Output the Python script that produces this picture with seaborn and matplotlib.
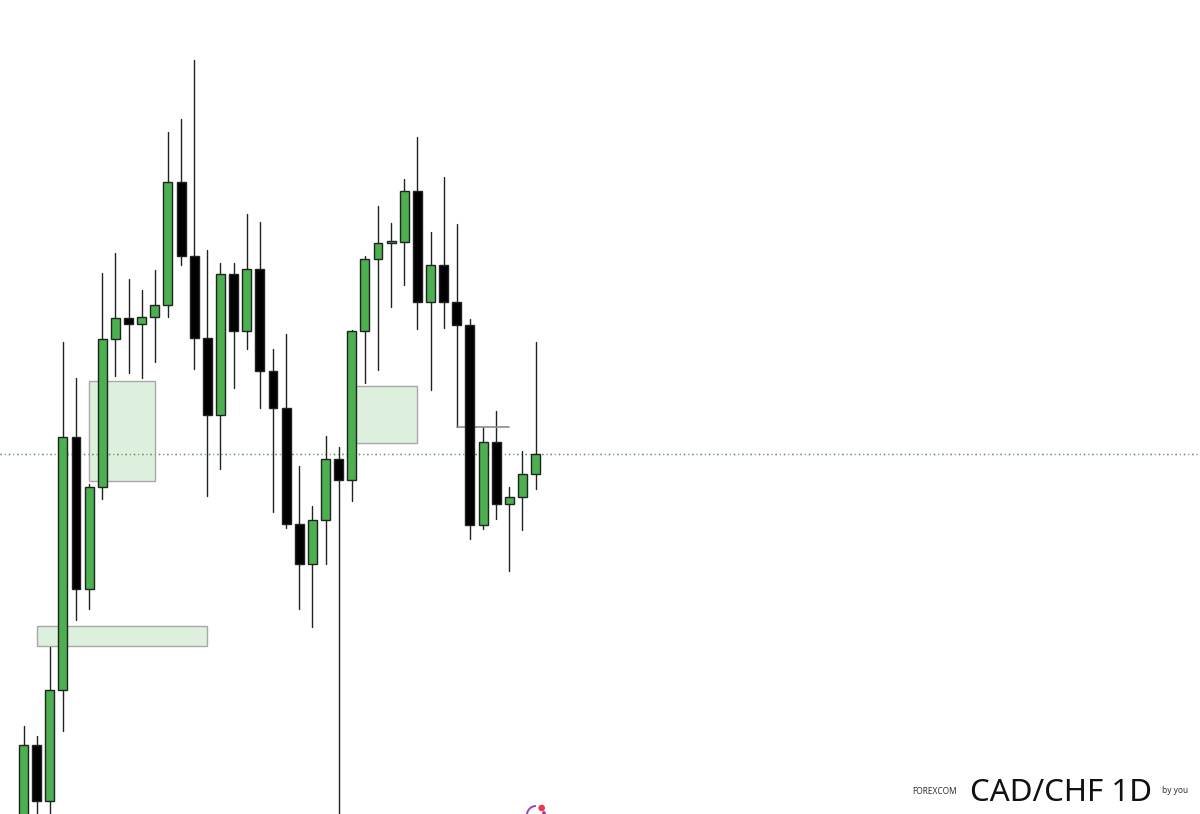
import pandas as pd
import matplotlib.pyplot as plt
import seaborn as sns
from matplotlib.patches import Arc, Circle, Rectangle
from matplotlib.transforms import IdentityTransform

# No price scale is visible, so values are read as chart height from the top
opens = [850, 744.5, 801, 690, 437, 588.5, 487, 339, 318, 324, 316.7, 305, 181.7, 256, 338, 415, 274, 331, 269, 371,
         408, 524, 563.5, 520.3, 459.3, 480, 331, 259.3, 243.3, 241.5, 191.3, 302.3, 265, 302.3, 324.7, 525, 442.3,
         503.7, 497.3, 474]
closes = [744.5, 801, 690, 437, 588.5, 487, 339, 318, 324, 316.7, 305, 181.7, 256, 338, 415, 274, 331, 269, 371, 408,
          524, 563.5, 520.3, 459.3, 480, 331, 259.3, 243.3, 241.3, 191.3, 302.3, 265, 302.3, 324.7, 525, 442.3, 503.7,
          497.3, 474, 454.3]
highs = [725.7, 736, 646.7, 342, 378, 484, 273, 252.7, 279, 290, 270, 132, 119, 60, 250, 263, 262.7, 214, 221.7, 349,
         334, 465.7, 506, 436, 446.7, 330, 255.7, 206, 223, 178.7, 137.3, 231.7, 177, 224.3, 319, 427, 411, 487.3,
         451.3, 342]
lows = [870, 830, 830, 730.7, 620, 609, 499, 375.7, 373, 377.7, 361.7, 316.7, 265, 369, 495.7, 468.7, 388, 349, 408,
        511.7, 527.7, 609, 626.7, 564, 900, 500.7, 382.7, 370, 307, 284.7, 329.3, 390, 327.7, 427, 539.3, 529.3, 518.7,
        570.7, 530.3, 489.3]

# Zones: first candle, last candle, top, bottom
zone_start = [5, 1, 25]
zone_end = [10, 14, 30]
zone_top = [381, 626.3, 385.7]
zone_bottom = [480.5, 645.5, 443.3]

last_price = 454.3
level_price = 427
level_start = 33
level_end = 37

df = pd.DataFrame({"idx": range(len(opens)), "open": opens, "close": closes, "high": highs, "low": lows})
df["body_top"] = df[["open", "close"]].min(axis=1)
df["body_height"] = (df["open"] - df["close"]).abs()
up = df[df["close"] < df["open"]]
down = df[df["close"] > df["open"]]

sns.set_style("white")
fig = plt.figure(figsize=(12, 8.14), dpi=100)
ax = fig.add_axes([0, 0, 1, 1])

# Zones under the candles
for i in range(len(zone_start)):
    ax.add_patch(Rectangle((zone_start[i], zone_top[i]), zone_end[i] - zone_start[i], zone_bottom[i] - zone_top[i],
                           facecolor="#ddefdd", edgecolor="#a8a8a8", linewidth=1, zorder=1))

# Dotted last price line, green and grey dots in turn
ax.axhline(last_price, color="#3fae49", linewidth=1, linestyle=(0, (1, 5)), zorder=1.5)
ax.axhline(last_price, color="#999999", linewidth=1, linestyle=(3, (1, 2)), zorder=1.4)

# Wicks
wicks = df.melt(id_vars="idx", value_vars=["high", "low"], value_name="price")
sns.lineplot(data=wicks, x="idx", y="price", units="idx", estimator=None, color="#222222", linewidth=1,
             legend=False, ax=ax, zorder=2, sort=False)

# Bodies
for part, colour in [(up, "#4caf50"), (down, "#000000")]:
    sns.barplot(data=part, x="idx", y="body_height", bottom=part["body_top"].values, native_scale=True, width=0.68,
                color=colour, saturation=1, edgecolor="#222222", linewidth=1, errorbar=None, ax=ax, zorder=3)

ax.plot([level_start, level_end], [level_price, level_price], color="#8c8c8c", linewidth=1.2, zorder=2)

ax.set_xlim(-1.79, 89.6)
ax.set_ylim(814, 0)
ax.axis("off")

# Watermark
fig.text(912 / 1200, 1 - 793.5 / 814, "FOREXCOM", fontsize=6, family="Noto Sans", color="#333333", va="baseline")
fig.text(970 / 1200, 1 - 801 / 814, "CAD/CHF 1D", fontsize=22.5, family="Noto Sans", color="#111111", va="baseline")
fig.text(1162 / 1200, 1 - 793 / 814, "by you", fontsize=6, family="Noto Sans", color="#333333", va="baseline")

# Small gauge icon at the bottom edge
fig.add_artist(Arc((536, -1), 18, 18, theta1=90, theta2=190, color="#9c3fc0", linewidth=1.4,
                   transform=IdentityTransform()))
fig.add_artist(Circle((541.7, 6), 2.6, color="#f23645", transform=IdentityTransform()))
fig.add_artist(Circle((544, 1), 1.2, color="#9c3fc0", transform=IdentityTransform()))

plt.savefig("out.png", dpi=100)
